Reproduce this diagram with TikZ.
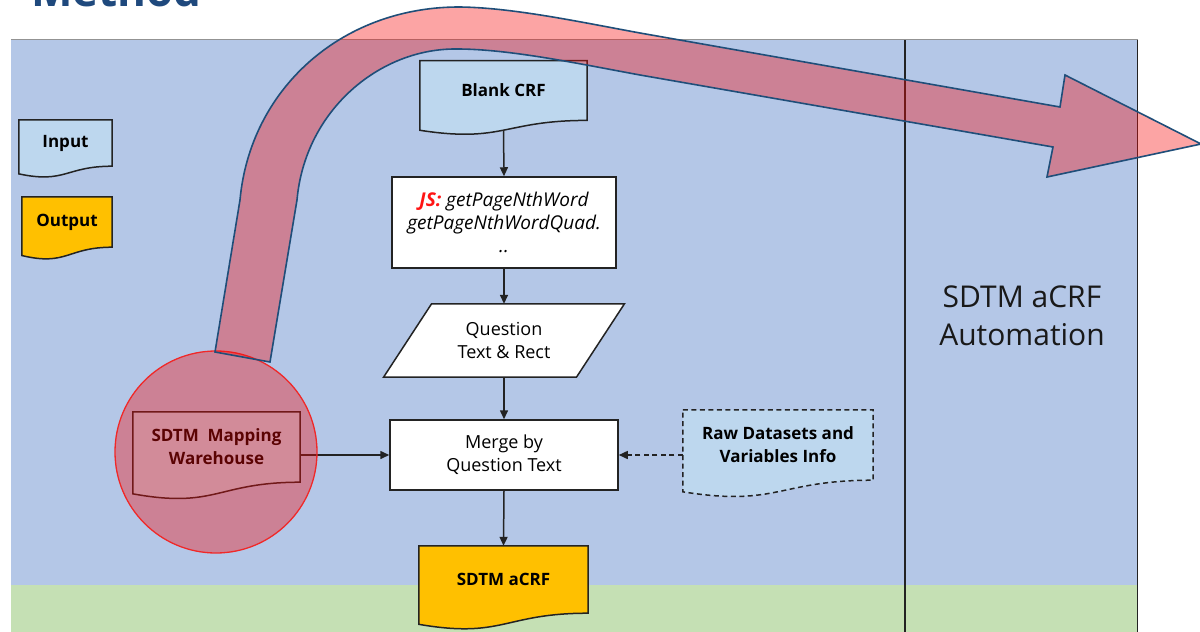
\documentclass[tikz,border=0pt]{standalone}
\usepackage{fontspec}
\setmainfont{Open Sans}
\usetikzlibrary{arrows.meta,calc}

\definecolor{panelblue}{RGB}{180,199,231}
\definecolor{panelgreen}{RGB}{197,224,180}
\definecolor{docblue}{RGB}{189,215,238}
\definecolor{docgold}{RGB}{255,192,0}
\definecolor{navy}{RGB}{31,78,121}
\definecolor{titleblue}{RGB}{31,73,125}
\definecolor{hlred}{RGB}{247,10,10}
\definecolor{ringred}{RGB}{240,40,40}
\definecolor{ink}{RGB}{35,35,35}
\definecolor{jsred}{RGB}{255,20,20}

\pgfdeclarelayer{back}
\pgfdeclarelayer{front}
\pgfsetlayers{back,main,front}

% document symbol behind a node: straight top and sides, wavy bottom
\newcommand\docoutline[2]{%
  \begin{pgfonlayer}{back}
  \path[#1] let \p1=(#2.north), \p2=(#2.south), \n1={\y1-\y2} in
    (#2.north west) -- (#2.north east) -- (#2.south east)
    .. controls (#2.south) and ([yshift=-0.381*\n1]#2.south) ..
    ([yshift=-0.165*\n1]#2.south west) -- cycle;
  \end{pgfonlayer}}

\tikzset{
  txt/.style={font=\fontsize{18}{23}\selectfont},
  boldtxt/.style={font=\fontsize{17}{23}\selectfont\bfseries},
  docnode/.style={boldtxt, inner sep=0, align=center, text=black},
  inbox/.style={fill=docblue, draw=ink, line width=1.5},
  outbox/.style={fill=docgold, draw=ink, line width=1.5},
  rawbox/.style={fill=docblue, draw=ink, line width=1.5, dash pattern=on 5pt off 3.5pt},
  procbox/.style={txt, fill=white, draw=ink, line width=1.5, inner sep=0, align=center},
  flow/.style={draw=ink, line width=1.5, -{Triangle[length=9pt,width=8pt]}},
  dflow/.style={flow, dash pattern=on 5pt off 3.5pt},
  rule/.style={draw=ink, line width=1.5},
  bigarrow/.style={fill=hlred, fill opacity=0.37, draw=navy, line width=1.6, line join=miter},
  spot/.style={fill=hlred, fill opacity=0.37, draw=ringred, line width=1.3},
}

\begin{document}
\begin{tikzpicture}[x=1pt,y=-1pt]
\useasboundingbox (0,0) rectangle (1200,632);

% page background, swim lanes and separators
\begin{pgfonlayer}{back}
  \fill[white] (0,0) rectangle (1200,632);
  \fill[panelblue] (11,39) rectangle (1138,585);
  \fill[panelgreen] (11,585) rectangle (1138,632);
  \draw[gray!85, line width=1.5] (11,39.5) -- (1138,39.5);
  \draw[rule] (905,40) -- (905,632);
  \draw[rule] (1137.5,40) -- (1137.5,632);
\end{pgfonlayer}

% heading
\node[anchor=base west, text=titleblue, inner sep=0,
      font=\fontsize{44}{44}\selectfont\bfseries] (title) at (31,6) {Method};

% legend
\node[docnode, minimum width=93, minimum height=46] (legin) at (65.5,143) {Input};
\docoutline{inbox}{legin}
\node[docnode, minimum width=90, minimum height=50] (legout) at (67,222) {Output};
\docoutline{outbox}{legout}

% main flow
\node[docnode, minimum width=167, minimum height=59.4] (blank) at (503.5,90.5) {Blank CRF};
\docoutline{inbox}{blank}

\node[procbox, minimum width=224, minimum height=91,
      font=\fontsize{19}{23}\selectfont\itshape] (js) at (504,222.5)
  {{\color{jsred}\bfseries JS:} getPageNthWord\\ getPageNthWordQuad.\\ ..};

\node[docnode, txt, minimum width=192.5, minimum height=73] (quest) at (504,340.5) {Question\\Text \& Rect};
\begin{pgfonlayer}{back}
  \path[procbox] ([xshift=24]quest.north west) -- ([xshift=24]quest.north east)
    -- ([xshift=-24]quest.south east) -- ([xshift=-24]quest.south west) -- cycle;
\end{pgfonlayer}

\node[procbox, minimum width=228, minimum height=70] (merge) at (504,455) {Merge by\\Question Text};

\node[docnode, minimum width=167, minimum height=70] (wh) at (216.5,447) {SDTM\ \ Mapping\\Warehouse};
\docoutline{inbox}{wh}

\node[docnode, minimum width=190, minimum height=70] (raw) at (778,445) {Raw Datasets and\\Variables Info};
\docoutline{rawbox}{raw}

\node[docnode, minimum width=169, minimum height=67] (acrf) at (503.5,579.5) {SDTM aCRF};
\docoutline{outbox}{acrf}

% connectors
\draw[flow] ([yshift=-10pt]blank.south) -- (js.north);
\draw[flow] (js.south) -- (quest.north);
\draw[flow] (quest.south) -- (merge.north);
\draw[flow] (merge.south) -- (acrf.north);
\draw[flow] (wh.east |- merge.west) -- (merge.west);
\draw[dflow] (raw.west |- merge.east) -- (merge.east);

% lane caption
\node[align=center, font=\fontsize{30}{38}\selectfont, text=black!90] (lane) at (1022,316)
  {SDTM aCRF\\Automation};

% highlight: ring around the warehouse and the sweeping arrow
\begin{pgfonlayer}{front}
  \node[circle, spot, minimum size=202, inner sep=0] (focus) at (216,452) {};
  \path[bigarrow] (215,352) -- (240,200)
    .. controls (250,90) and (340,8) .. (457,7)
    .. controls (510,7) and (580,22) .. (640,33)
    -- (1060,107) -- (1065,75) -- (1201,144) -- (1047,177) -- (1053,147)
    -- (640,75)
    .. controls (580,64) and (510,49) .. (457,49)
    .. controls (380,48) and (305,110) .. (297,200)
    -- (270,362) -- cycle;
\end{pgfonlayer}
\end{tikzpicture}
\end{document}
